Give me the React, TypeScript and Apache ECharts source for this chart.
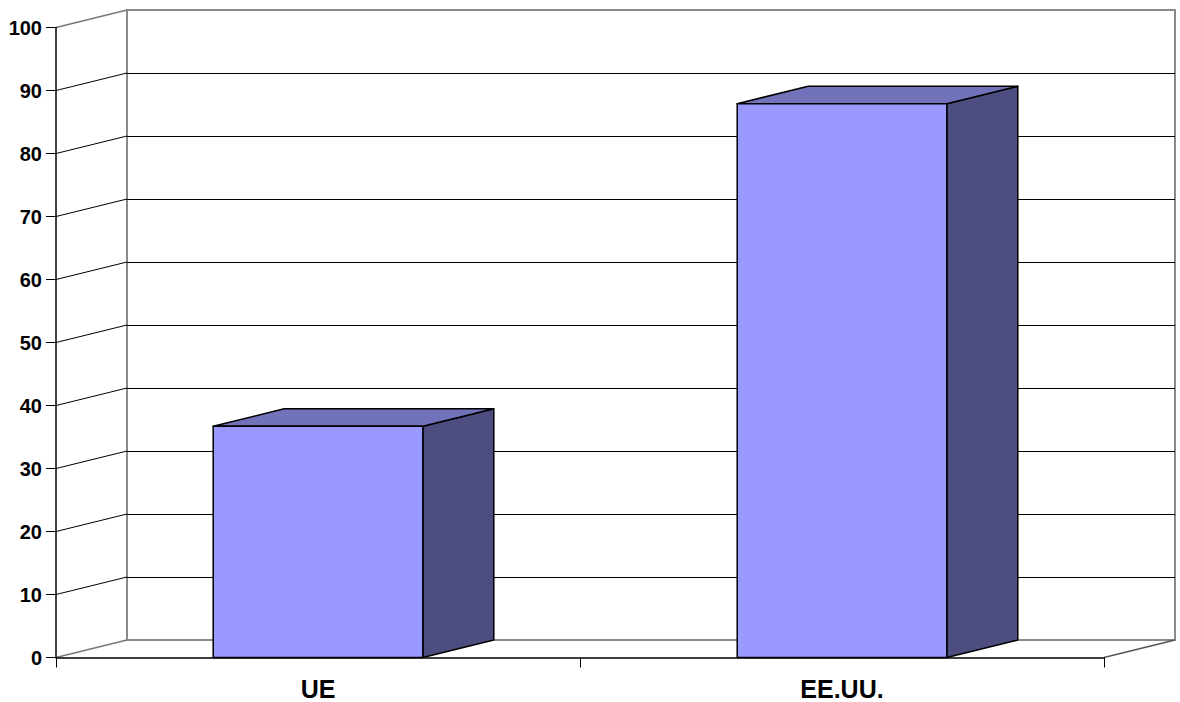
import React, { useEffect, useRef } from "react";
import * as echarts from "echarts";

const categories = ["UE", "EE.UU."];
const values = [36.7, 87.9];
const yTicks = [0, 10, 20, 30, 40, 50, 60, 70, 80, 90, 100];

const DX = 71;
const DY = -17.5;
const FONT = "'Liberation Sans', Arial, Helvetica, sans-serif";

export default function App() {
  const ref = useRef<HTMLDivElement>(null);
  useEffect(() => {
    if (!ref.current) return;
    const chart = echarts.init(ref.current, null, { renderer: "svg" });
    const option: any = {
      animation: false,
      backgroundColor: "#ffffff",
      grid: [
        { left: 56, top: 27.5, width: 1048, height: 630, show: false },
        {
          left: 56 + DX,
          top: 27.5 + DY,
          width: 1048,
          height: 630,
          show: true,
          borderColor: "#8a8a8a",
          borderWidth: 2,
          backgroundColor: "transparent",
        },
      ],
      xAxis: [
        {
          type: "category",
          gridIndex: 0,
          data: categories,
          boundaryGap: true,
          axisLine: { show: true, lineStyle: { color: "#000", width: 1.5 } },
          axisTick: { show: true, length: 10, alignWithLabel: false, lineStyle: { color: "#000", width: 1 } },
          axisLabel: {
            color: "#000",
            fontWeight: "bold",
            fontSize: 25,
            fontFamily: FONT,
            margin: 19,
          },
          splitLine: { show: false },
          z: 5,
        },
        {
          type: "category",
          gridIndex: 1,
          data: categories,
          show: false,
        },
      ],
      yAxis: [
        {
          type: "value",
          gridIndex: 0,
          min: 0,
          max: 100,
          interval: 10,
          axisLine: { show: true, lineStyle: { color: "#000", width: 1.5 } },
          axisTick: { show: true, length: 10, lineStyle: { color: "#000", width: 1 } },
          axisLabel: {
            color: "#000",
            fontWeight: "bold",
            fontSize: 20,
            fontFamily: FONT,
            margin: 14,
          },
          splitLine: { show: false },
          z: 5,
        },
        {
          type: "value",
          gridIndex: 1,
          min: 0,
          max: 100,
          interval: 10,
          axisLine: { show: false },
          axisTick: { show: false },
          axisLabel: { show: false },
          splitLine: {
            show: true,
            showMinLine: false,
            showMaxLine: false,
            lineStyle: { color: "#000", width: 1 },
          },
        },
      ],
      series: [
        {
          type: "custom",
          name: "diagonals",
          xAxisIndex: 0,
          yAxisIndex: 0,
          z: 2,
          silent: true,
          data: yTicks.map((v) => [0, v]),
          renderItem: (params: any, api: any) => {
            const v = api.value(1);
            const y = api.coord([0, v])[1];
            const cs = params.coordSys;
            const x0 = cs.x;
            const edge = v === 0 || v === 100;
            const color = edge ? "#777" : "#000";
            const children: any[] = [
              {
                type: "line",
                shape: { x1: x0, y1: y, x2: x0 + DX, y2: y + DY },
                style: { stroke: color, lineWidth: edge ? 1.5 : 1 },
              },
            ];
            if (v === 0) {
              const x1 = cs.x + cs.width;
              children.push({
                type: "line",
                shape: { x1: x1, y1: y, x2: x1 + DX, y2: y + DY },
                style: { stroke: "#555", lineWidth: 1.5 },
              });
            }
            return { type: "group", children };
          },
        },
        {
          type: "custom",
          name: "bars",
          xAxisIndex: 0,
          yAxisIndex: 0,
          z: 10,
          data: values.map((v, i) => [i, v]),
          renderItem: (params: any, api: any) => {
            const i = api.value(0);
            const v = api.value(1);
            const top = api.coord([i, v]);
            const base = api.coord([i, 0]);
            const band = api.size([1, 0])[0];
            const w = band * 0.4;
            const xl = top[0] - w / 2;
            const xr = top[0] + w / 2;
            const yt = top[1];
            const yb = base[1];
            const stroke = { stroke: "#000", lineWidth: 1.5, lineJoin: "round" };
            return {
              type: "group",
              children: [
                {
                  type: "polygon",
                  shape: {
                    points: [
                      [xr, yt],
                      [xr + DX, yt + DY],
                      [xr + DX, yb + DY],
                      [xr, yb],
                    ],
                  },
                  style: { fill: "#4d4d80", ...stroke },
                },
                {
                  type: "polygon",
                  shape: {
                    points: [
                      [xl, yt],
                      [xl + DX, yt + DY],
                      [xr + DX, yt + DY],
                      [xr, yt],
                    ],
                  },
                  style: { fill: "#7272ba", ...stroke },
                },
                {
                  type: "rect",
                  shape: { x: xl, y: yt, width: w, height: yb - yt },
                  style: { fill: "#9999ff", ...stroke },
                },
              ],
            };
          },
        },
      ],
    };
    chart.setOption(option);
    return () => chart.dispose();
  }, []);
  return (
    <div
      ref={ref}
      style={{ position: "fixed", left: 0, top: 0, width: 1180, height: 702, background: "#fff" }}
    />
  );
}
